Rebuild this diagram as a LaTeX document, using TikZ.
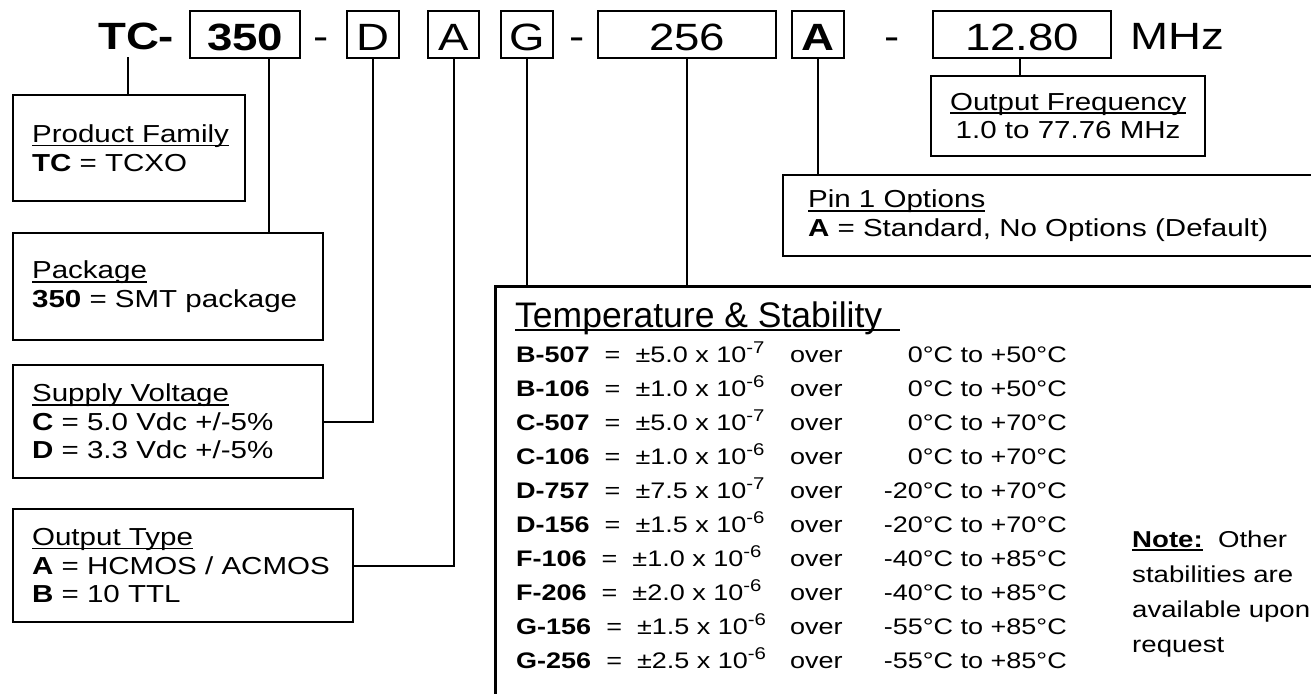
\documentclass[tikz,border=0pt]{standalone}
\usepackage{fontspec}
\setmainfont{Liberation Sans}[FakeStretch=1.2]
\newfontfamily\hdfont{Liberation Sans}
\usepackage{tikz}
\usetikzlibrary{positioning,calc}
\newsavebox{\ulbox}
\newcommand{\ulin}[2][0pt]{\sbox\ulbox{#2}\rlap{\rule[-3.8pt]{\dimexpr\wd\ulbox+#1\relax}{1.8pt}}\usebox\ulbox}
\newcommand{\supx}[1]{\raisebox{8.5pt}{\fontsize{17}{17}\selectfont #1}}

\begin{document}
\begin{tikzpicture}[
  x=1pt, y=-1pt,
  cbox/.style={draw, line width=2.2pt, font=\fontsize{38}{38}\selectfont,
               text height=39pt, text depth=8pt, inner sep=0pt, anchor=north west},
  ctext/.style={font=\fontsize{38}{38}\selectfont, text height=39pt, text depth=8pt,
               inner sep=0pt, anchor=north west},
  dbox/.style={draw, line width=2.2pt, font=\fontsize{24.6}{28.5}\selectfont, align=left,
               inner xsep=19pt, inner ysep=0pt, anchor=north west},
  tsrow/.style={font=\fontsize{22.5}{22.5}\selectfont, inner sep=0pt},
  conn/.style={line width=2.2pt}
]
  \clip (0,0) rectangle (1311,693);
  % ---- part number ----
  \node[ctext] (tcLbl) at (98,10) {\textbf{TC-}};
  \node[cbox, minimum width=110pt] (bxPkg) at (189,10) {\textbf{350}};
  \node[ctext, anchor=north] (dashA) at (321.5,10) {-};
  \node[cbox, minimum width=52pt] (bxVolt) at (346,10) {D};
  \node[cbox, minimum width=51pt] (bxOut) at (427,10) {A};
  \node[cbox, minimum width=52pt] (bxTemp) at (500,10) {G};
  \node[ctext, anchor=north] (dashB) at (577.5,10) {-};
  \node[cbox, minimum width=178pt] (bxStab) at (597,10) {256};
  \node[cbox, minimum width=52pt] (bxPin) at (791,10) {\textbf{A}};
  \node[ctext, anchor=north] (dashC) at (892.5,10) {-};
  \node[cbox, minimum width=178pt] (bxFreq) at (932,10) {12.80};
  \node[ctext] (mhzLbl) at (1130,10) {MHz};
  % ---- option boxes ----
  \node[dbox, text width=194pt, minimum height=106pt] (famBox) at (12,94)
       {\ulin{Product Family}\\ \textbf{TC} = TCXO\par\vspace{11pt}};
  \node[dbox, text width=272pt, minimum height=107pt] (pkgBox) at (12,232)
       {\ulin{Package}\\ \textbf{350} = SMT package};
  \node[dbox, text width=272pt, minimum height=113pt] (voltBox) at (12,364)
       {\ulin{Supply Voltage}\\ \textbf{C} = 5.0 Vdc +/-5\%\\ \textbf{D} = 3.3 Vdc +/-5\%};
  \node[dbox, text width=302pt, minimum height=113pt] (outBox) at (12,508)
       {\ulin{Output Type}\\ \textbf{A} = HCMOS / ACMOS\\ \textbf{B} = 10 TTL};
  \node[dbox, align=center, text width=236pt, minimum height=80pt] (freqBox) at (930,75)
       {\ulin{Output Frequency}\\ 1.0 to 77.76 MHz};
  \node[dbox, inner xsep=25pt, text width=498pt, minimum height=81pt] (pinBox) at (782,174)
       {\ulin{Pin 1 Options}\\ \textbf{A} = Standard, No Options (Default)};
  \node[dbox, line width=3pt, minimum width=860pt, minimum height=440pt] (tsBox) at (494,285) {};
  % ---- temperature & stability table ----
  \node[anchor=base west, inner sep=0pt, font=\hdfont\fontsize{35.5}{35.5}\selectfont] (tsHead)
       at (515,327) {\ulin[18pt]{Temperature \& Stability}};
  \foreach \cd/\val/\ex/\rng [count=\i from 0] in {B-507/5.0/7/0°C to +50°C,B-106/1.0/6/0°C to +50°C,
      C-507/5.0/7/0°C to +70°C,C-106/1.0/6/0°C to +70°C,D-757/7.5/7/-20°C to +70°C,
      D-156/1.5/6/-20°C to +70°C,F-106/1.0/6/-40°C to +85°C,F-206/2.0/6/-40°C to +85°C,
      G-156/1.5/6/-55°C to +85°C,G-256/2.5/6/-55°C to +85°C} {
    \node[tsrow, anchor=base west] (stab\i) at (516,362+34*\i)
         {\textbf{\cd}\ \ =\ \ ±\val{} x 10\supx{-\ex}};
    \node[tsrow, anchor=base west] (over\i) at (790,362+34*\i) {over};
    \node[tsrow, anchor=base east] (rng\i) at (1067,362+34*\i) {\rng};
  }
  \node[anchor=base west, inner sep=0pt, font=\fontsize{23}{35}\selectfont] (noteTxt) at (1132,547)
       {\begin{tabular}[t]{@{}l@{}}\ulin{\textbf{Note:}}\ \ Other\\ stabilities are\\ available upon\\ request\end{tabular}};
  % ---- connectors ----
  \draw[conn] ([xshift=-8pt]tcLbl.south) -- ([xshift=-8pt]tcLbl.south |- famBox.north);
  \draw[conn] ([xshift=24pt]bxPkg.south) -- ([xshift=24pt]bxPkg.south |- pkgBox.north);
  \draw[conn] (bxVolt.south) |- (voltBox.east);
  \draw[conn] (bxOut.south) |- (outBox.east);
  \draw[conn] (bxTemp.south) -- (bxTemp.south |- tsBox.north);
  \draw[conn] (bxStab.south) -- (bxStab.south |- tsBox.north);
  \draw[conn] (bxPin.south) -- (bxPin.south |- pinBox.north);
  \draw[conn] ([xshift=-2pt]bxFreq.south) -- ([xshift=-2pt]bxFreq.south |- freqBox.north);
\end{tikzpicture}
\end{document}
